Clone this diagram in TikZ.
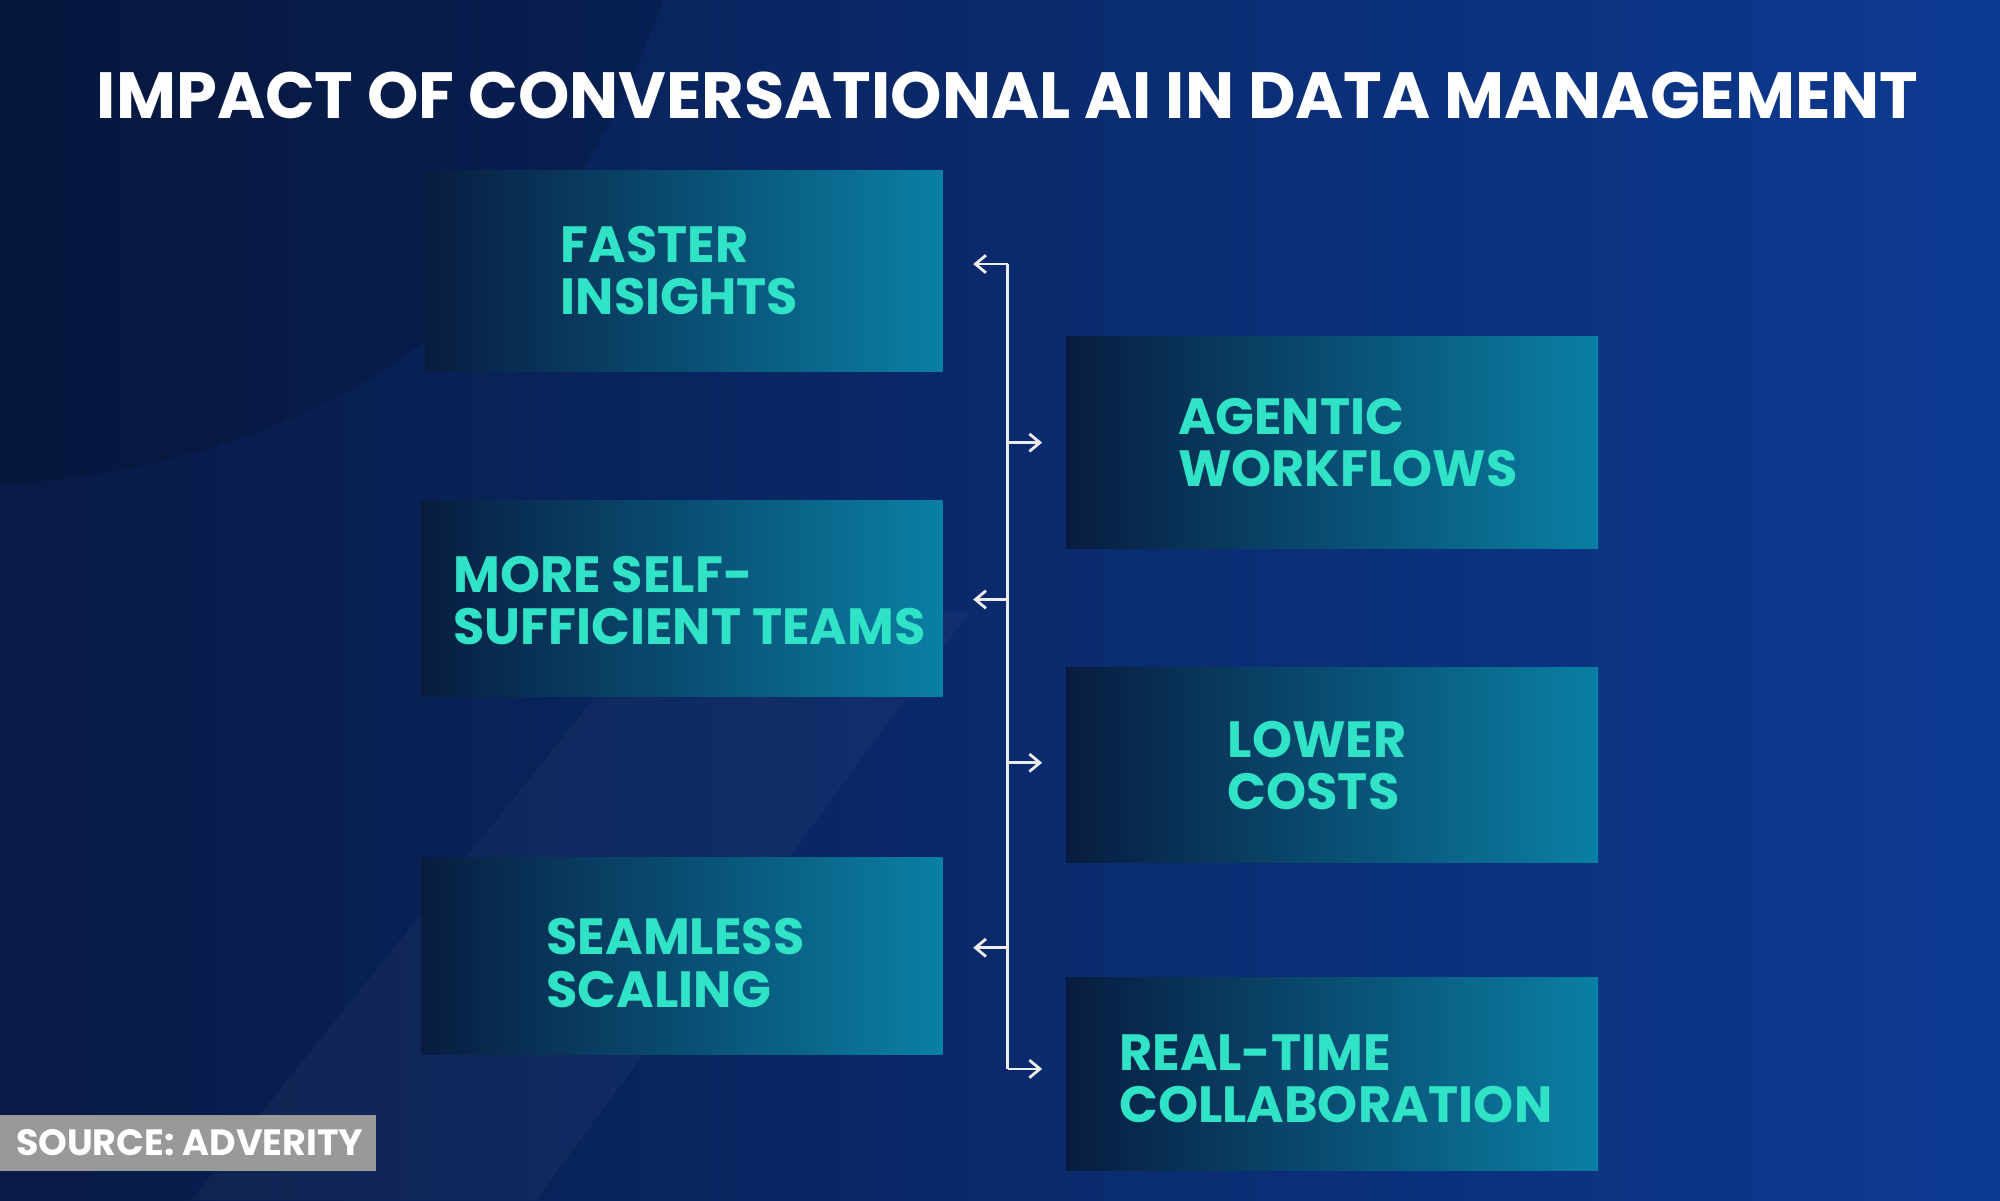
\documentclass[tikz,border=0pt]{standalone}
\usepackage{fontspec}
\setmainfont{Poppins}
\usetikzlibrary{arrows.meta}
\definecolor{bgL}{HTML}{081A45}
\definecolor{bgR}{HTML}{0C3A92}
\definecolor{bxL}{HTML}{081C40}
\definecolor{bxR}{HTML}{0A80A4}
\definecolor{tx}{HTML}{30E2C6}
\begin{document}
\begin{tikzpicture}[x=0.012755cm,y=-0.012755cm,
  box/.style={left color=bxL,right color=bxR,draw=none},
  lab/.style={anchor=west,align=left,text=tx,font=\fontsize{14.5}{14.8}\selectfont\bfseries,inner sep=0pt},
  arr/.style={draw=white!85!gray,line width=0.8pt,-{Straight Barb[length=3pt,width=5pt]}}]
\useasboundingbox (0,0) rectangle (1568,941);
\shade[left color=bgL,right color=bgR] (0,0) rectangle (1568,941);
\fill[black,opacity=0.12] (0,380) .. controls (300,360) and (450,200) .. (520,0) -- (0,0) -- cycle;
\fill[white,opacity=0.03] (150,941) -- (520,480) -- (760,480) -- (420,941) -- cycle;
\node[text=white,font=\fontsize{18.6}{22}\selectfont\bfseries] (title) at (790,75) {IMPACT OF CONVERSATIONAL AI IN DATA MANAGEMENT};
\fill[box] (333,134) rectangle (739,291);
\fill[box] (836,264) rectangle (1253,430);
\fill[box] (330,392) rectangle (739,546);
\fill[box] (836,523) rectangle (1253,676);
\fill[box] (330,672) rectangle (739,827);
\fill[box] (836,766) rectangle (1253,918);
\node[lab] (b1) at (439,212) {FASTER\\INSIGHTS};
\node[lab] (b2) at (923,347) {AGENTIC\\WORKFLOWS};
\node[lab] (b3) at (355,471) {MORE SELF-\\SUFFICIENT TEAMS};
\node[lab] (b4) at (962,600) {LOWER\\COSTS};
\node[lab] (b5) at (428,755) {SEAMLESS\\SCALING};
\node[lab] (b6) at (877,846) {REAL-TIME\\COLLABORATION};
\coordinate (t) at (790,207);
\coordinate (e1) at (763,207);
\coordinate (e2) at (817,347);
\coordinate (e3) at (763,470);
\coordinate (e4) at (817,598);
\coordinate (e5) at (763,743);
\coordinate (e6) at (817,838);
\draw[arr] (790,207) -- (e1);
\draw[draw=white!85!gray,line width=0.8pt] (t) -- (790,838);
\draw[arr] (790,347) -- (e2);
\draw[arr] (790,470) -- (e3);
\draw[arr] (790,598) -- (e4);
\draw[arr] (790,743) -- (e5);
\draw[arr] (790,838) -- (e6);
\fill[gray!80] (0,874) rectangle (295,918);
\node[text=white,font=\fontsize{10.4}{12}\selectfont\bfseries,anchor=west,inner sep=0pt] (src) at (12,896) {SOURCE: ADVERITY};
\end{tikzpicture}
\end{document}
